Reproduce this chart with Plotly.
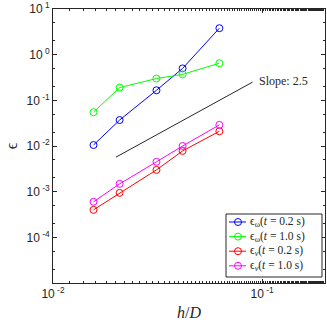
import math
import plotly.graph_objects as go

h_over_d = [1/64, 1/48, 1/32, 1/24, 1/16]

eps_w_02 = [0.0105, 0.037, 0.166, 0.50, 3.8]
eps_w_10 = [0.055, 0.19, 0.30, 0.37, 0.65]
eps_v_02 = [0.0004, 0.00094, 0.0030, 0.0078, 0.021]
eps_v_10 = [0.0006, 0.00148, 0.0045, 0.0100, 0.029]

slope_x = [0.02, 0.09]
slope_y = [0.0057, 0.25]

x_ticks = [0.01, 0.1]
x_ticktext = ["10<sup> -2</sup>", "10<sup> -1</sup>"]
y_ticks = [1e-4, 1e-3, 1e-2, 1e-1, 1, 10]
y_ticktext = ["10<sup> -4</sup>", "10<sup> -3</sup>", "10<sup> -2</sup>",
              "10<sup> -1</sup>", "10<sup> 0</sup>", "10<sup> 1</sup>"]

series = [
    ("ϵ<sub>ω</sub>(<i>t</i> = 0.2 s)", eps_w_02, "#0000ff"),
    ("ϵ<sub>ω</sub>(<i>t</i> = 1.0 s)", eps_w_10, "#00ff00"),
    ("ϵ<sub><i>v</i></sub>(<i>t</i> = 0.2 s)", eps_v_02, "#ff0000"),
    ("ϵ<sub><i>v</i></sub>(<i>t</i> = 1.0 s)", eps_v_10, "#ff00ff"),
]

serif = "Liberation Serif, DejaVu Serif, serif"
sans = "Liberation Sans, Arial, sans-serif"
dark = "#262626"

W, H = 327, 328
L, R, T, B = 53, 2, 9, 45
PW, PH = W - L - R, H - T - B


# helpers: pixel -> paper fraction
def px(xp):
    return (xp - L) / PW


def py(yp):
    return (H - B - yp) / PH


fig = go.Figure()
for name, vals, col in series:
    fig.add_trace(go.Scatter(
        x=h_over_d, y=vals, name=name, mode="lines+markers", showlegend=False,
        line=dict(color=col, width=1),
        marker=dict(symbol="circle-open", size=7, color=col, line=dict(width=1, color=col)),
    ))

fig.add_trace(go.Scatter(x=slope_x, y=slope_y, mode="lines", showlegend=False,
                         line=dict(color=dark, width=1)))
# log axes: annotation coords are in log10 units
fig.add_annotation(x=math.log10(slope_x[1]) + 0.02, y=math.log10(slope_y[1]) + 0.02,
                   xref="x", yref="y", text="Slope: 2.5",
                   showarrow=False, xanchor="left", yanchor="middle",
                   font=dict(family=serif, size=12, color=dark))

# hand-made legend box (MATLAB style, compact)
fig.add_shape(type="rect", xref="paper", yref="paper",
              x0=px(226), x1=px(322), y0=py(277), y1=py(214),
              fillcolor="white", line=dict(color=dark, width=1), layer="above")
for i, (name, vals, col) in enumerate(series):
    yc = 222 + i * 14.6
    fig.add_shape(type="line", xref="paper", yref="paper",
                  x0=px(229), x1=px(246), y0=py(yc), y1=py(yc),
                  line=dict(color=col, width=1), layer="above")
    fig.add_shape(type="circle", xref="paper", yref="paper",
                  x0=px(234.5), x1=px(241.5), y0=py(yc + 3.5), y1=py(yc - 3.5),
                  line=dict(color=col, width=1), layer="above")
    fig.add_annotation(x=px(248), y=py(yc), xref="paper", yref="paper", text=name,
                       showarrow=False, xanchor="left", yanchor="middle",
                       font=dict(family=serif, size=11.5, color=dark))

axis_common = dict(
    type="log", showgrid=False, zeroline=False, automargin=False,
    showline=True, linecolor=dark, linewidth=1, mirror="allticks",
    ticks="inside", ticklen=4, tickcolor=dark,
    minor=dict(ticks="inside", ticklen=2, tickcolor=dark),
    tickfont=dict(family=sans, size=12, color=dark),
    ticklabeloverflow="allow",
)

fig.update_xaxes(**axis_common, range=[-2, -0.699], tickvals=x_ticks, ticktext=x_ticktext,
                 title=dict(text="<i>h</i>/<i>D</i>", font=dict(family=serif, size=16, color=dark), standoff=6))
fig.update_yaxes(**axis_common, range=[-5, 1], tickvals=y_ticks, ticktext=y_ticktext,
                 title=dict(text="ϵ", font=dict(family=serif, size=16, color=dark), standoff=4))

fig.update_layout(
    width=W, height=H,
    margin=dict(l=L, r=R, t=T, b=B),
    paper_bgcolor="white", plot_bgcolor="white",
    showlegend=False,
)

# drop the browser's default 8px body margin so the figure sits at the corner
fig.write_html("out.html", config={"displayModeBar": False},
               post_script="document.body.style.margin = '0px';")
